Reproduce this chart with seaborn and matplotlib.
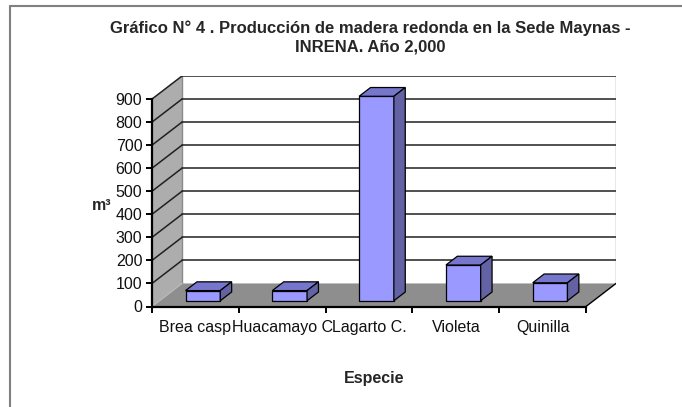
import seaborn as sns
import matplotlib.pyplot as plt
from matplotlib.patches import Polygon
import pandas as pd

# data
especies = ["Brea casp", "Huacamayo C", "Lagarto C.", "Violeta", "Quinilla"]
volumen = [44, 44, 887, 155, 78]
y_ticks = [0, 100, 200, 300, 400, 500, 600, 700, 800, 900]

sns.set_theme(style="white")
plt.rcParams['font.family'] = ['Liberation Sans', 'DejaVu Sans']

W, H = 682, 407
fig = plt.figure(figsize=(W / 100, H / 100), dpi=100)

# plot box in pixels: front axis x 152..586, back wall up to 616; y 0 at 306.5, top at 76
ax = fig.add_axes([152 / W, (H - 306.5) / H, (616 - 152) / W, (306.5 - 76) / H])

dx = 30 / 86.8   # depth offset in category units
dy = 100         # depth offset in value units
x_left, x_right = -0.5, 4.5
ax.set_xlim(x_left, x_right + dx)
ax.set_ylim(0, 900 + dy)

# walls and floor
ax.add_patch(Polygon([(x_left + dx, dy), (x_right + dx, dy), (x_right + dx, 900 + dy), (x_left + dx, 900 + dy)],
                     closed=True, facecolor="white", edgecolor="none", zorder=0))
ax.add_patch(Polygon([(x_left, 0), (x_left + dx, dy), (x_left + dx, 900 + dy), (x_left, 900)],
                     closed=True, facecolor="#adadad", edgecolor="none", zorder=1))
ax.add_patch(Polygon([(x_left, 0), (x_right, 0), (x_right + dx, dy), (x_left + dx, dy)],
                     closed=True, facecolor="#8e8e8e", edgecolor="none", zorder=1))
ax.plot([x_left + dx, x_left + dx], [dy, 900 + dy], color="#8a8a8a", lw=1, zorder=2)
ax.plot([x_right + dx, x_right + dx], [dy, 900 + dy], color="#8a8a8a", lw=1, zorder=2)
ax.plot([x_left, x_left + dx], [0, dy], color="#b8b8b8", lw=1, zorder=2)
ax.plot([x_right, x_right + dx], [0, dy], color="black", lw=1, zorder=2)

# gridlines on back wall and left wall
for v in y_ticks[1:]:
    ax.plot([x_left + dx, x_right + dx], [v + dy, v + dy], color="#202020", lw=1.1, zorder=2)
    ax.plot([x_left, x_left + dx], [v, v + dy], color="#202020", lw=1.1, zorder=2)

# bars
df = pd.DataFrame({"Especie": especies, "m3": volumen})
sns.barplot(data=df, x="Especie", y="m3", color="#9999ff", saturation=1, width=0.4,
            edgecolor="black", linewidth=0.9, ax=ax, zorder=5)
ax.set_xlim(x_left, x_right + dx)
ax.set_ylim(0, 900 + dy)

f0 = 0.25   # bar front position inside the depth
fd = 0.38   # bar depth
bars = [p for p in ax.patches if abs(getattr(p, "get_width", lambda: 0)() - 0.4) < 1e-6]
for p in bars:
    h = p.get_height()
    x0 = p.get_x() + f0 * dx
    b = f0 * dy
    p.set_x(x0)
    p.set_y(b)
    x1 = x0 + p.get_width()
    ddx, ddy = fd * dx, fd * dy
    ax.add_patch(Polygon([(x0, b + h), (x1, b + h), (x1 + ddx, b + h + ddy), (x0 + ddx, b + h + ddy)],
                         closed=True, facecolor="#7676cc", edgecolor="black", lw=0.9, zorder=6))
    ax.add_patch(Polygon([(x1, b), (x1 + ddx, b + ddy), (x1 + ddx, b + h + ddy), (x1, b + h)],
                         closed=True, facecolor="#6262a4", edgecolor="black", lw=0.9, zorder=6))

# axes lines and ticks
for s in ["top", "right"]:
    ax.spines[s].set_visible(False)
ax.spines["left"].set_bounds(0, 900)
ax.spines["bottom"].set_bounds(x_left, x_right)
for s in ["left", "bottom"]:
    ax.spines[s].set_color("black")
    ax.spines[s].set_linewidth(1.6)
    ax.spines[s].set_zorder(7)

ax.set_yticks(y_ticks)
ax.set_yticklabels([str(v) for v in y_ticks], fontsize=11.5, color="#111111")
ax.tick_params(axis="y", direction="out", length=4, width=1.4, color="black", pad=3, left=True)

ax.set_xticks([x_left + i for i in range(6)])
ax.set_xticklabels([""] * 6)
ax.set_xticks(range(len(especies)), minor=True)
ax.set_xticklabels(especies, minor=True, fontsize=11.5, color="#111111")
ax.tick_params(axis="x", which="major", direction="out", length=4, width=1.4, color="black", bottom=True)
ax.tick_params(axis="x", which="minor", length=0, pad=10)
ax.set_xlabel("")
ax.set_ylabel("")

# titles
fig.text(370 / W, 1 - 28 / H, "Gráfico N° 4 . Producción de madera redonda en la Sede Maynas -",
         ha="center", va="center", fontsize=12, fontweight="bold")
fig.text(370 / W, 1 - 47 / H, "INRENA. Año 2,000", ha="center", va="center", fontsize=12, fontweight="bold")
fig.text(102 / W, 1 - 205 / H, "m³", ha="center", va="center", fontsize=11.5, fontweight="bold")
fig.text(374 / W, 1 - 378 / H, "Especie", ha="center", va="center", fontsize=11.5, fontweight="bold")

# chart border (top and left visible)
fig.add_artist(plt.Line2D([10 / W, 10 / W], [0, 1 - 6 / H], color="#808080", lw=1.5, transform=fig.transFigure))
fig.add_artist(plt.Line2D([10 / W, 1], [1 - 6 / H, 1 - 6 / H], color="#808080", lw=1.5, transform=fig.transFigure))

fig.savefig("out.png", dpi=100)
